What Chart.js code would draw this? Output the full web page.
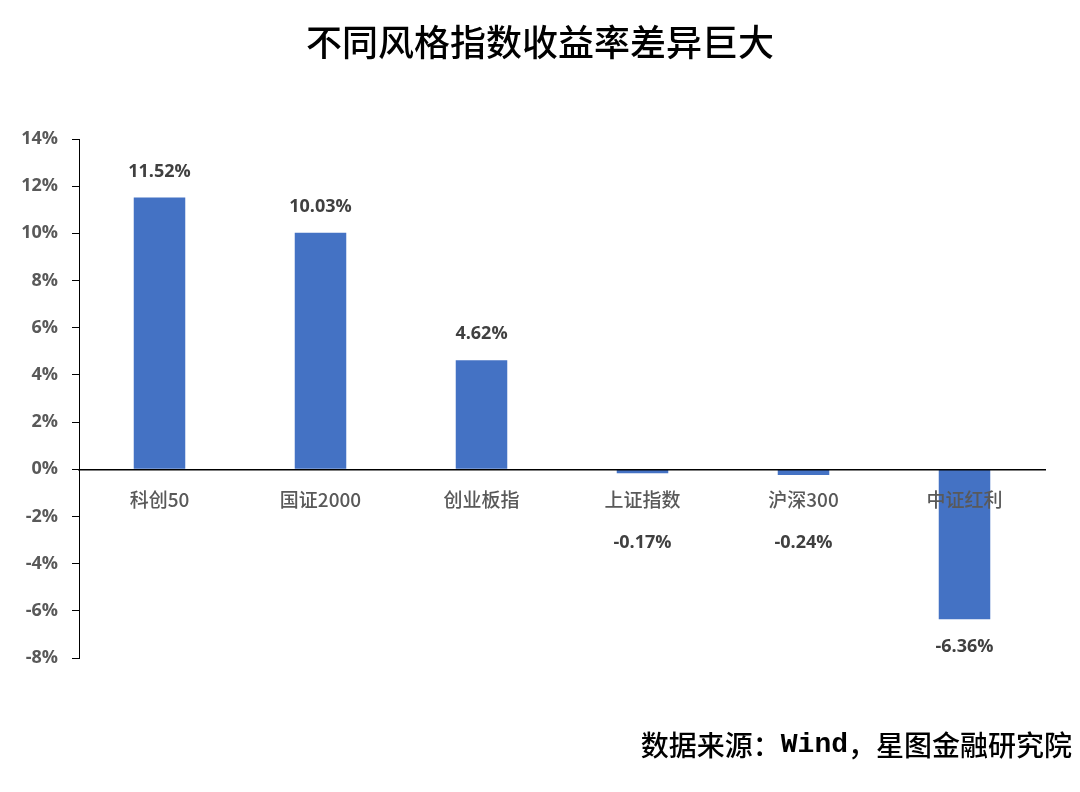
<!doctype html>
<html lang="zh">
<head>
    <meta charset="utf-8">
    <title>不同风格指数收益率差异巨大</title>
    <script src="https://cdn.jsdelivr.net/npm/chart.js@4.4.1/dist/chart.umd.min.js"></script>
    <style>
        html, body { margin: 0; padding: 0; background: #fff; }
        #wrap { width: 1080px; height: 792px; position: relative; }
    </style>
</head>
<body>
<div id="wrap">
    <canvas id="chart" width="1080" height="792"></canvas>
</div>

<script>
    const categories = ['科创50', '国证2000', '创业板指', '上证指数', '沪深300', '中证红利'];
    const returns = [11.52, 10.03, 4.62, -0.17, -0.24, -6.36];
    const yMin = -8;
    const yMax = 14;
    const yStep = 2;

    const titleText = '不同风格指数收益率差异巨大';
    const sourceParts = [
        { text: '数据来源：', font: '500 28px "Noto Sans CJK SC"' },
        { text: 'Wind', font: 'bold 28px "Liberation Mono"' },
        { text: '，星图金融研究院', font: '500 28px "Noto Sans CJK SC"' },
    ];

    // title, source note and the value labels on the bars
    const textPlugin = {
        id: 'texts',
        afterDraw(chart) {
            const ctx = chart.ctx;
            const yScale = chart.scales.y;
            const zeroY = yScale.getPixelForValue(0);
            const meta = chart.getDatasetMeta(0);

            ctx.save();
            ctx.textAlign = 'center';
            ctx.textBaseline = 'middle';
            ctx.fillStyle = '#404040';
            ctx.font = 'bold 18px "Open Sans", "Noto Sans CJK SC"';
            meta.data.forEach((bar, i) => {
                const v = returns[i];
                const label = v.toFixed(2) + '%';
                let y;
                if (v >= 0) {
                    y = bar.y - 26;
                } else {
                    y = Math.max(bar.y + 28, zeroY + 74);
                }
                ctx.fillText(label, bar.x, y);
            });

            // title
            ctx.fillStyle = '#000';
            ctx.font = '500 36px "Noto Sans CJK SC"';
            ctx.fillText(titleText, 540, 42);

            // source, right aligned
            ctx.textAlign = 'left';
            let total = 0;
            sourceParts.forEach(p => { ctx.font = p.font; total += ctx.measureText(p.text).width; });
            let x = 1072 - total;
            sourceParts.forEach(p => {
                ctx.font = p.font;
                ctx.fillText(p.text, x, 745);
                x += ctx.measureText(p.text).width;
            });
            ctx.restore();
        }
    };

    new Chart(document.getElementById('chart'), {
        type: 'bar',
        data: {
            labels: categories,
            datasets: [{
                data: returns,
                backgroundColor: '#4472C4',
                barPercentage: 1,
                categoryPercentage: 0.32,
            }],
        },
        options: {
            responsive: false,
            animation: false,
            layout: {
                padding: { left: 0, right: 35, top: 139, bottom: 134 },
            },
            plugins: {
                legend: { display: false },
                tooltip: { enabled: false },
                title: { display: false },
            },
            scales: {
                x: {
                    position: { y: 0 },
                    grid: { display: false, drawTicks: false },
                    border: { display: true, color: '#000', width: 1.5, z: 1 },
                    ticks: {
                        z: 2,
                        padding: 19,
                        color: '#595959',
                        maxRotation: 0,
                        font: { family: '"Noto Sans CJK SC"', size: 19, weight: 500 },
                    },
                },
                y: {
                    min: yMin,
                    max: yMax,
                    afterFit(scale) { scale.width = 79; },
                    grid: {
                        drawOnChartArea: false,
                        drawTicks: true,
                        tickLength: 7,
                        color: '#000',
                    },
                    border: { display: true, color: '#000', width: 1 },
                    ticks: {
                        stepSize: yStep,
                        padding: 14,
                        color: '#595959',
                        font: { family: '"Open Sans", "Noto Sans"', size: 18, weight: 'bold' },
                        callback: v => v + '%',
                    },
                },
            },
        },
        plugins: [textPlugin],
    });
</script>
</body>
</html>
